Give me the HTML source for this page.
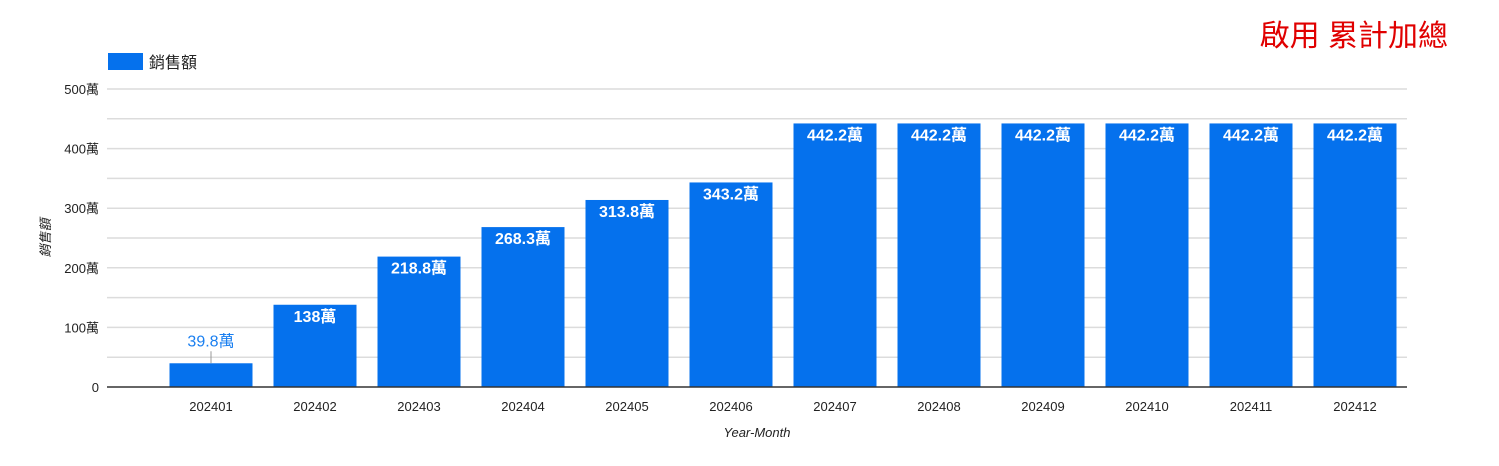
<!DOCTYPE html>
<html><head><meta charset="utf-8">
<style>
body{margin:0;background:#fff;width:1499px;height:461px;overflow:hidden;font-family:"Liberation Sans","Noto Sans CJK TC",sans-serif;}
</style></head>
<body>
<svg id="chart" width="1499" height="461" xmlns="http://www.w3.org/2000/svg" font-family="Liberation Sans, Noto Sans CJK TC, sans-serif">
<text x="1448" y="46" text-anchor="end" font-size="30" fill="#e00000">啟用 累計加總</text>
<rect x="108" y="53" width="35" height="17" fill="#0571ed"/>
<text x="149" y="68" font-size="16" fill="#222">銷售額</text>
<text transform="translate(50,238) rotate(-90)" text-anchor="middle" font-size="13" font-style="italic" fill="#222">銷售額</text>
<text x="757" y="437" text-anchor="middle" font-size="13" font-style="italic" fill="#222">Year-Month</text>
<g id="grid"></g><g id="bars"></g><g id="labels"></g>
</svg>
<script>
const categories=["202401","202402","202403","202404","202405","202406","202407","202408","202409","202410","202411","202412"];
const values=[39.8,138,218.8,268.3,313.8,343.2,442.2,442.2,442.2,442.2,442.2,442.2];
const yTicks=[0,100,200,300,400,500];
const yTickLabels=["0","100萬","200萬","300萬","400萬","500萬"];
const NS="http://www.w3.org/2000/svg";
const x0=107,x1=1407,yBase=387,yTop=89,yMax=500;
const step=(x1-x0)/(categories.length+0.5);
const bw=83;
function y(v){return yBase-(v/yMax)*(yBase-yTop);}
function xc(i){return x0+step*(i+1);}
function mk(tag,attrs,parent){const e=document.createElementNS(NS,tag);for(const k in attrs)e.setAttribute(k,attrs[k]);parent.appendChild(e);return e;}
const grid=document.getElementById('grid'),bars=document.getElementById('bars'),labels=document.getElementById('labels');
for(let v=50;v<=yMax;v+=50){
  const l=mk('line',{x1:x0,x2:x1,y1:y(v),y2:y(v),stroke:'#dcdcdc','stroke-width':1.5},grid);
  
  
}
yTicks.forEach((v,i)=>{
  const t=mk('text',{x:99,y:y(v)+5,'text-anchor':'end','font-size':13,fill:'#222'},grid);
  t.textContent=yTickLabels[i];
  
  
});
categories.forEach((c,i)=>{
  const v=values[i],cx=xc(i);
  const r=mk('rect',{x:cx-bw/2,y:y(v),width:bw,height:yBase-y(v),fill:'#0571ed'},bars);
  
  
  const t=mk('text',{x:cx,y:yBase+24,'text-anchor':'middle','font-size':13,fill:'#222'},labels);
  t.textContent=c;
  
  
  const h=yBase-y(v);
  const lbl=mk('text',{'text-anchor':'middle','font-size':16},labels);
  lbl.textContent=v+'萬';
  
  
  if(h>30){lbl.setAttribute('x',cx);lbl.setAttribute('y',y(v)+17);lbl.setAttribute('fill','#fff');lbl.setAttribute('font-weight','bold');}
  else{
    lbl.setAttribute('x',cx);lbl.setAttribute('y',y(v)-17);lbl.setAttribute('fill','#1a7ff0');
    const ln=mk('line',{x1:cx,x2:cx,y1:y(v)-12,y2:y(v),stroke:'#999','stroke-width':1},labels);
    
    
  }
});
const ax=mk('line',{x1:x0,x2:x1,y1:yBase,y2:yBase,stroke:'#333','stroke-width':1.5},labels);


</script>
</body></html>
